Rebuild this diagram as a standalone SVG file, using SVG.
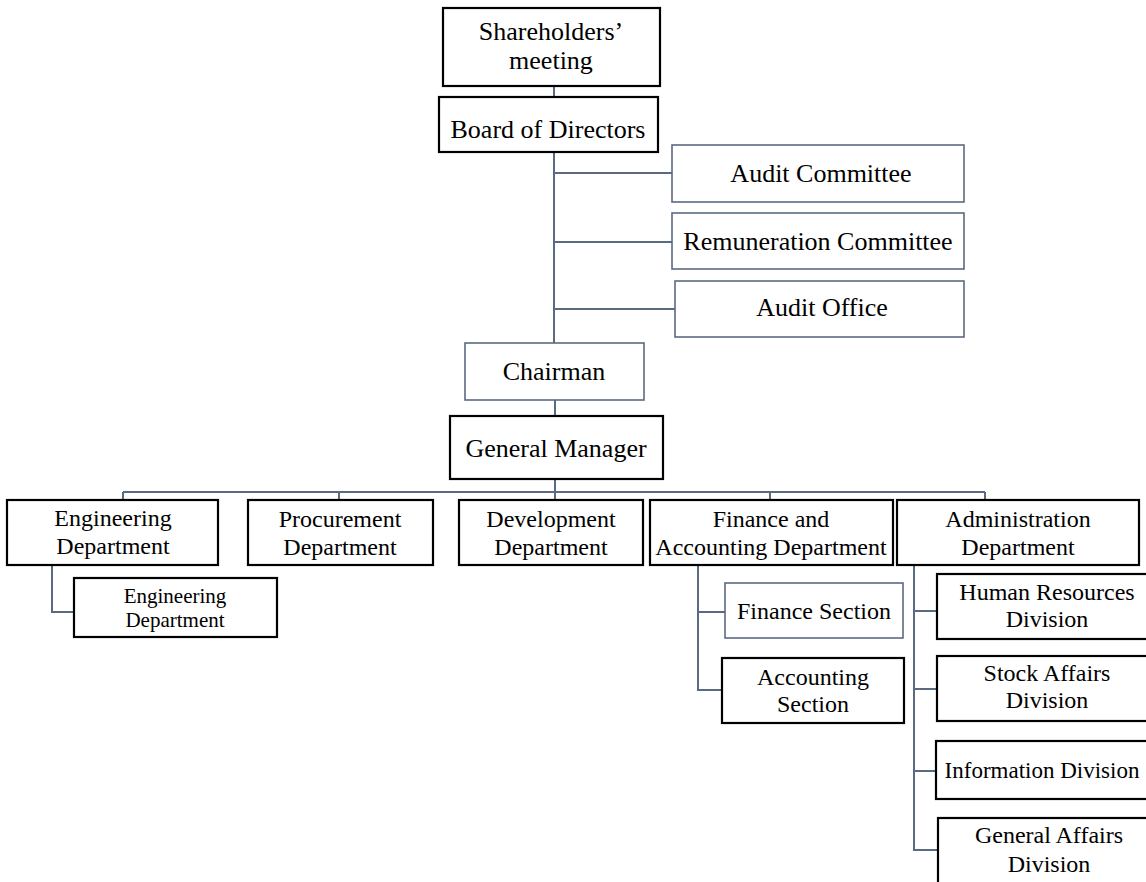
<svg xmlns="http://www.w3.org/2000/svg" width="1146" height="882" viewBox="0 0 1146 882">
<style>
.bk{fill:#fff;stroke:#000;stroke-width:2.2}
.gb{fill:#fff;stroke:#5b6a83;stroke-width:1.6}
.ln{fill:none;stroke:#5b6a83;stroke-width:2}
text{font-family:"Liberation Serif","Times New Roman",serif;fill:#000;text-anchor:middle}
.t26{font-size:26px}
.t24{font-size:24px}
.t21{font-size:21px}
</style>
<rect width="1146" height="882" fill="#fff"/>
<g id="connectors">
<path class="ln" d="M554 86V97M554 152V343M554 173H672M554 242H672M554 309H675"/>
<path class="ln" d="M555 400V416M555 479V492M123 492H985M123 492V500M339 492V500M555 492V500M770 492V500M985 492V500"/>
<path class="ln" d="M52 565V612H74"/>
<path class="ln" d="M698 565V690H722M698 612H725"/>
<path class="ln" d="M914 565V850H938M914 611H937M914 689H937M914 771H936"/>
</g>
<g id="shareholders"><rect class="bk" x="443" y="8" width="217" height="78"/><text class="t26" x="551" y="40">Shareholders’</text><text class="t26" x="551" y="69">meeting</text></g>
<g id="board"><rect class="bk" x="439" y="97" width="219" height="55"/><text class="t26" x="548" y="138">Board of Directors</text></g>
<g id="audit-committee"><rect class="gb" x="672" y="145" width="292" height="57"/><text class="t26" x="821" y="182">Audit Committee</text></g>
<g id="remuneration"><rect class="gb" x="672" y="213" width="292" height="56"/><text class="t26" x="818" y="250">Remuneration Committee</text></g>
<g id="audit-office"><rect class="gb" x="675" y="281" width="289" height="56"/><text class="t26" x="822" y="316">Audit Office</text></g>
<g id="chairman"><rect class="gb" x="465" y="343" width="179" height="57"/><text class="t26" x="554" y="380">Chairman</text></g>
<g id="general-manager"><rect class="bk" x="450" y="416" width="213" height="63"/><text class="t26" x="556" y="457">General Manager</text></g>
<g id="engineering"><rect class="bk" x="7" y="500" width="211" height="65"/><text class="t24" x="113" y="526">Engineering</text><text class="t24" x="113" y="554">Department</text></g>
<g id="procurement"><rect class="bk" x="248" y="500" width="185" height="65"/><text class="t24" x="340" y="527">Procurement</text><text class="t24" x="340" y="555">Department</text></g>
<g id="development"><rect class="bk" x="459" y="500" width="184" height="65"/><text class="t24" x="551" y="527">Development</text><text class="t24" x="551" y="555">Department</text></g>
<g id="finance-accounting"><rect class="bk" x="650" y="500" width="243" height="65"/><text class="t24" x="771" y="527">Finance and</text><text class="t24" x="771" y="555">Accounting Department</text></g>
<g id="administration"><rect class="bk" x="897" y="500" width="242" height="65"/><text class="t24" x="1018" y="527">Administration</text><text class="t24" x="1018" y="555">Department</text></g>
<g id="engineering-sub"><rect class="bk" x="74" y="578" width="203" height="59"/><text class="t21" x="175" y="603">Engineering</text><text class="t21" x="175" y="627">Department</text></g>
<g id="finance-section"><rect class="gb" x="725" y="583" width="178" height="55"/><text class="t24" x="814" y="619">Finance Section</text></g>
<g id="accounting-section"><rect class="bk" x="722" y="658" width="182" height="65"/><text class="t24" x="813" y="685">Accounting</text><text class="t24" x="813" y="712">Section</text></g>
<g id="human-resources"><rect class="bk" x="937" y="574" width="220" height="65"/><text class="t24" x="1047" y="600">Human Resources</text><text class="t24" x="1047" y="627">Division</text></g>
<g id="stock-affairs"><rect class="bk" x="937" y="656" width="220" height="65"/><text class="t24" x="1047" y="681">Stock Affairs</text><text class="t24" x="1047" y="708">Division</text></g>
<g id="information"><rect class="bk" x="936" y="741" width="220" height="58"/><text x="1042" y="778" style="font-size:23px">Information Division</text></g>
<g id="general-affairs"><rect class="bk" x="938" y="818" width="220" height="70"/><text class="t24" x="1049" y="843">General Affairs</text><text class="t24" x="1049" y="872">Division</text></g>
</svg>
